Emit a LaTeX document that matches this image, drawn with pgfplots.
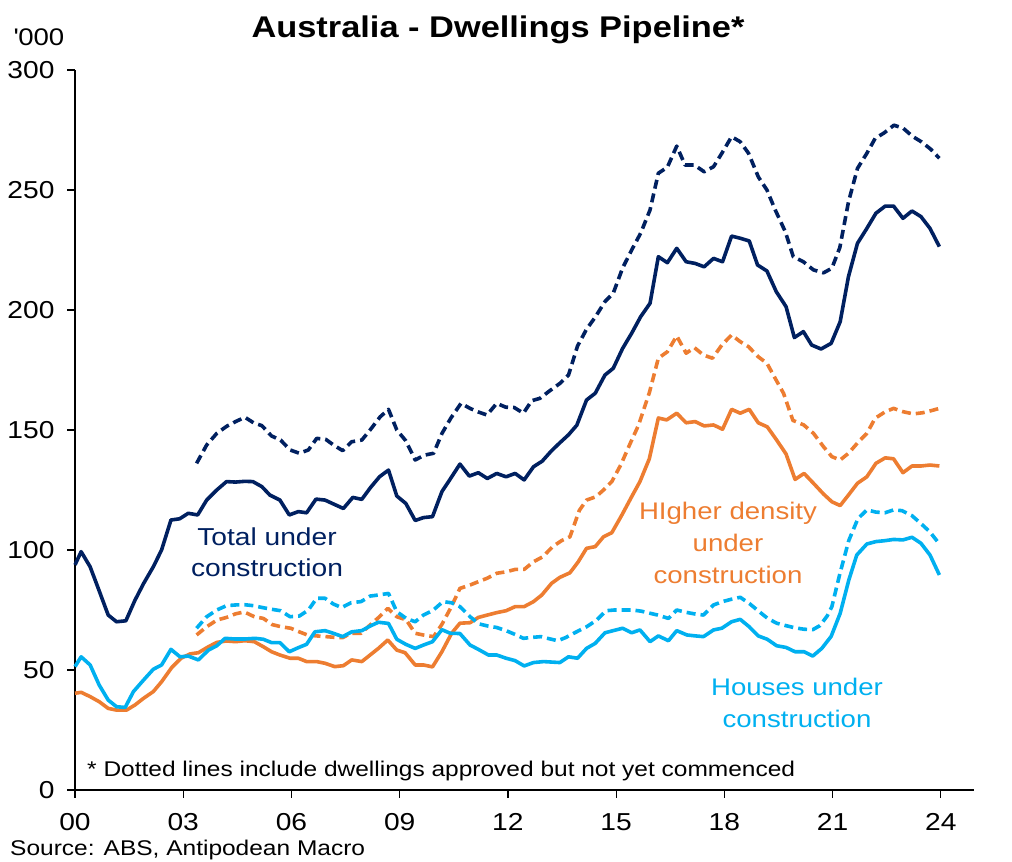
\documentclass[border=0pt]{standalone}
\usepackage{pgfplots}
\pgfplotsset{compat=1.18}
\usepackage{fontspec}
\setmainfont{Liberation Sans}[FakeStretch=1.15]
\definecolor{navy}{HTML}{002060}
\definecolor{orng}{HTML}{ED7D31}
\definecolor{lblue}{HTML}{00B0F0}
\begin{document}
\begin{tikzpicture}[x=1pt,y=1pt]
\path[use as bounding box] (0,0) rectangle (1012,862);
\begin{axis}[
  at={(75pt,72pt)}, anchor=south west,
  scale only axis, width=899pt, height=720pt,
  xmin=0, xmax=24.92, ymin=0, ymax=300,
  axis x line*=bottom, axis y line*=left,
  axis line style={black, line width=1.2pt},
  tick style={black, line width=1.2pt},
  tick align=outside, major tick length=8pt,
  xtick={0,3,6,9,12,15,18,21,24},
  xticklabels={00,03,06,09,12,15,18,21,24},
  ytick={0,50,100,150,200,250,300},
  /pgf/number format/assume math mode=true,
  ticklabel style={font=\fontsize{24.5}{24.5}\selectfont},
  yticklabel shift=9pt,
  xticklabel shift=12pt,
  clip=false,
  every axis plot/.append style={line width=3.6pt, line join=round},
]
% Total under construction (solid)
\addplot[navy] coordinates {
(0,93.8)(0.17,99.3)(0.42,93)(0.67,83)(0.92,72.9)(1.15,70.1)(1.41,70.5)(1.66,79)(1.9,86)(2.17,93)(2.4,100)(2.66,112.5)(2.9,113)(3.14,115.3)(3.4,114.6)(3.65,120.8)(3.93,125)(4.2,128.5)(4.45,128.3)(4.7,128.6)(4.93,128.5)(5.18,126.4)(5.4,122.9)(5.68,120.8)(5.94,114.6)(6.19,116)(6.42,115.5)(6.68,121.2)(6.93,120.8)(7.19,119)(7.44,117.3)(7.7,121.9)(7.95,121.1)(8.19,126)(8.44,130.5)(8.69,133.3)(8.92,122.5)(9.17,119.4)(9.43,112.3)(9.66,113.5)(9.91,113.9)(10.17,124.3)(10.42,130)(10.67,135.8)(10.93,130.8)(11.18,132.2)(11.43,129.8)(11.69,131.9)(11.95,130.5)(12.2,131.9)(12.45,129.2)(12.71,134.7)(12.95,137)(13.2,141.2)(13.42,144.4)(13.68,148)(13.91,152)(14.18,162.5)(14.42,165.3)(14.69,172.9)(14.92,175.7)(15.18,184)(15.43,190.3)(15.68,197.2)(15.94,202.8)(16.17,222.2)(16.42,219.7)(16.68,225.7)(16.94,220.1)(17.19,219.4)(17.44,218)(17.7,221.5)(17.95,220.1)(18.2,230.8)(18.44,229.9)(18.69,228.75)(18.92,218.75)(19.18,216.25)(19.44,207.6)(19.71,201.4)(19.94,188.5)(20.19,191)(20.42,185.4)(20.68,183.75)(20.96,186.1)(21.21,195.1)(21.44,213.9)(21.69,227.8)(21.95,234)(22.2,240.3)(22.46,243.3)(22.69,243.3)(22.95,238.2)(23.2,241.25)(23.45,238.9)(23.7,234)(23.96,226.4)
};
% Total incl. approved (dashed)
\addplot[navy, dash pattern=on 9pt off 5pt] coordinates {
(3.37,136.1)(3.65,143.75)(3.93,148.6)(4.2,151.5)(4.45,153.5)(4.71,155.3)(4.95,153)(5.18,151.8)(5.45,147.5)(5.7,145.8)(5.96,141.7)(6.22,140.3)(6.47,141.7)(6.7,146.5)(6.95,146.1)(7.19,143.5)(7.42,141.4)(7.67,145.1)(7.95,145.8)(8.18,150)(8.46,155.5)(8.69,158.6)(8.92,150)(9.17,145.5)(9.43,137.5)(9.68,139.5)(9.94,140.3)(10.17,148.5)(10.42,155)(10.7,161.1)(10.95,159)(11.18,157.5)(11.42,156.25)(11.69,161.1)(11.94,159.5)(12.17,159.4)(12.43,157)(12.66,162.2)(12.89,163.2)(13.12,165.9)(13.44,169.4)(13.68,172.9)(13.93,185)(14.18,192)(14.42,197)(14.69,203.5)(14.92,207)(15.18,217.5)(15.43,225)(15.68,232)(15.94,241.7)(16.17,257)(16.42,259.5)(16.68,268.3)(16.91,260.4)(17.17,260.4)(17.44,257.6)(17.7,259.7)(17.93,265.3)(18.2,272.2)(18.44,270.1)(18.67,265.3)(18.94,255.5)(19.18,250)(19.41,241.7)(19.69,232.6)(19.91,222.2)(20.19,220.1)(20.47,216.7)(20.75,215.5)(20.98,217.4)(21.2,226)(21.44,245)(21.69,259)(21.95,265.3)(22.18,271.5)(22.43,273.8)(22.7,277)(22.96,275.7)(23.22,272.3)(23.47,270)(23.72,267)(23.96,263.2)
};
% Higher density (solid)
\addplot[orng] coordinates {
(0,40.3)(0.17,40.7)(0.42,38.9)(0.67,36.8)(0.92,34)(1.15,33.3)(1.43,33.3)(1.66,35.4)(1.9,38.2)(2.17,41)(2.4,45.1)(2.68,51)(2.94,54.9)(3.19,56.7)(3.42,57.2)(3.7,59.7)(3.93,61.5)(4.2,62.1)(4.45,61.8)(4.71,62.2)(4.97,61.8)(5.22,59.7)(5.45,57.6)(5.68,56.25)(5.96,54.9)(6.19,54.9)(6.42,53.5)(6.7,53.5)(6.93,52.8)(7.2,51.4)(7.44,51.8)(7.67,54.2)(7.95,53.5)(8.18,56.25)(8.41,59)(8.67,62.5)(8.92,58.3)(9.15,57.2)(9.43,52.1)(9.66,52.1)(9.91,51.3)(10.17,57.6)(10.44,65.3)(10.67,69.5)(10.95,69.7)(11.18,71.9)(11.43,72.9)(11.69,73.9)(11.95,74.7)(12.2,76.4)(12.45,76.4)(12.71,78.5)(12.94,81.25)(13.21,86.1)(13.44,88.6)(13.72,90.5)(13.95,95.1)(14.18,100.7)(14.42,101.4)(14.65,105.5)(14.88,107.2)(15.16,114.6)(15.43,122.2)(15.66,128.5)(15.92,138)(16.17,155)(16.4,154.2)(16.68,157)(16.94,153)(17.19,153.5)(17.44,151.7)(17.7,152.1)(17.95,150.3)(18.2,158.6)(18.44,157)(18.69,158.6)(18.94,153)(19.19,151.3)(19.45,145.8)(19.71,140)(19.96,129.4)(20.21,131.9)(20.47,127.8)(20.75,123.3)(20.98,120.1)(21.21,118.5)(21.44,122.9)(21.69,127.8)(21.95,130.5)(22.2,136.1)(22.46,138.4)(22.69,138)(22.95,132.2)(23.2,135)(23.45,135)(23.7,135.4)(23.96,135)
};
% Higher density incl. approved (dashed)
\addplot[orng, dash pattern=on 9pt off 5pt] coordinates {
(3.37,64.6)(3.65,68)(3.93,70.8)(4.2,71.9)(4.45,73.4)(4.69,74.2)(4.97,72.2)(5.22,71.5)(5.47,68.9)(5.72,68)(5.98,67.4)(6.2,66)(6.44,64.6)(6.7,64.2)(6.96,63.9)(7.2,63.6)(7.42,63.5)(7.65,65.3)(7.93,65.3)(8.18,68.75)(8.44,72.2)(8.67,75.7)(8.92,72.2)(9.18,70.9)(9.43,65.3)(9.68,64.5)(9.94,63.9)(10.17,69)(10.42,76)(10.67,84)(10.95,85.4)(11.18,86.8)(11.42,88.2)(11.69,90.3)(11.95,90.9)(12.2,91.9)(12.45,91.9)(12.71,95.1)(12.97,97.2)(13.24,101.4)(13.5,104)(13.72,105.5)(13.98,116.5)(14.18,120.8)(14.44,122.2)(14.65,125)(14.88,128.5)(15.13,135.5)(15.39,144.4)(15.62,152)(15.92,165.5)(16.17,179.9)(16.42,182.6)(16.68,189.2)(16.94,182)(17.17,184.3)(17.42,181.25)(17.67,179.9)(17.93,185.4)(18.2,189.6)(18.44,186.8)(18.67,184.7)(18.94,180.5)(19.18,177.8)(19.41,171.5)(19.64,165.3)(19.9,154)(20.2,152.1)(20.47,148.6)(20.75,143)(20.98,138.9)(21.21,137.5)(21.44,140.3)(21.72,145.1)(21.95,148.6)(22.18,154.9)(22.46,157.6)(22.69,159)(22.96,157.6)(23.24,156.7)(23.5,157.2)(23.72,158)(23.96,159)
};
% Houses (solid)
\addplot[lblue] coordinates {
(0,51.4)(0.17,55.5)(0.42,52.1)(0.67,43.75)(0.92,37.5)(1.15,34.7)(1.39,34.4)(1.62,41)(1.9,45.8)(2.17,50.3)(2.4,52.1)(2.66,58.6)(2.91,55.5)(3.14,55.8)(3.42,54.2)(3.7,58.3)(3.93,60.1)(4.16,63.2)(4.44,62.9)(4.71,62.9)(4.99,63.2)(5.22,62.8)(5.45,61.4)(5.68,61.4)(5.94,57.6)(6.19,59.3)(6.42,60.7)(6.65,65.9)(6.93,66.4)(7.16,65.3)(7.42,63.9)(7.67,65.9)(7.95,66.4)(8.18,68.3)(8.41,69.9)(8.69,69.4)(8.92,62.8)(9.17,60.7)(9.43,59)(9.66,60.4)(9.91,61.8)(10.17,66.8)(10.4,65.3)(10.67,65.2)(10.95,60.4)(11.18,58.6)(11.46,56.25)(11.69,56.25)(11.95,54.9)(12.2,53.9)(12.45,51.7)(12.71,53.1)(12.99,53.5)(13.22,53.3)(13.44,53.1)(13.68,55.5)(13.93,54.9)(14.18,59)(14.42,61.1)(14.69,65.5)(14.92,66.4)(15.18,67.4)(15.43,65.5)(15.66,66.7)(15.94,61.8)(16.17,64.2)(16.45,62.2)(16.68,66.4)(16.96,64.6)(17.2,64.2)(17.42,63.9)(17.7,66.7)(17.93,67.4)(18.2,70.1)(18.44,71.1)(18.69,68)(18.94,64.2)(19.19,62.8)(19.45,60.1)(19.71,59.4)(19.96,57.6)(20.21,57.6)(20.45,55.8)(20.7,59)(20.96,64)(21.21,73.6)(21.45,87.5)(21.67,97.9)(21.95,102.5)(22.2,103.5)(22.46,103.9)(22.69,104.4)(22.95,104.2)(23.2,105.3)(23.45,102.8)(23.7,97.9)(23.96,89.6)
};
% Houses incl. approved (dashed)
\addplot[lblue, dash pattern=on 9pt off 5pt] coordinates {
(3.37,67.4)(3.65,72.2)(3.93,75)(4.2,76.8)(4.45,77.1)(4.7,77.2)(4.95,76.8)(5.2,76)(5.45,75.3)(5.7,74.7)(5.96,72.2)(6.22,72.5)(6.47,75)(6.7,79.9)(6.93,79.9)(7.16,77.5)(7.39,76)(7.65,78)(7.93,78.5)(8.18,80.8)(8.41,81.25)(8.69,81.9)(8.92,74.3)(9.18,71.5)(9.43,70.1)(9.66,72.9)(9.92,74.8)(10.2,78.5)(10.44,78)(10.67,76.4)(10.95,72.2)(11.2,69.2)(11.45,68.3)(11.69,67.7)(11.95,66.4)(12.2,64.8)(12.43,63.2)(12.68,63.6)(12.92,63.9)(13.15,63)(13.38,62.2)(13.6,63.5)(13.85,65.5)(14.18,68)(14.46,70.8)(14.72,74.7)(14.95,75)(15.2,75)(15.45,75)(15.7,74.5)(15.95,73.6)(16.15,72.9)(16.45,71.5)(16.68,75)(16.95,74)(17.2,73.3)(17.42,72.9)(17.7,77.1)(17.95,78.5)(18.2,79.5)(18.44,80.3)(18.71,77.5)(18.95,74.5)(19.2,71.5)(19.45,69.5)(19.7,68.5)(19.95,67.6)(20.2,67)(20.45,66.8)(20.65,68.5)(20.85,72.5)(20.98,76.4)(21.2,90)(21.45,104)(21.7,113)(21.95,116.7)(22.2,115.8)(22.45,115.5)(22.69,116.7)(22.92,116.4)(23.2,114.3)(23.45,111)(23.7,107.5)(23.96,102.5)
};
\end{axis}
% texts (absolute positions, origin bottom-left)
\node[font=\fontsize{29.9}{29.9}\selectfont\bfseries] at (498,832) {Australia - Dwellings Pipeline*};
\node[font=\fontsize{24}{24}\selectfont] at (39,825) {\textquotesingle000};
\node[font=\fontsize{21.3}{21.3}\selectfont, anchor=west, inner sep=0pt] at (87,91) {* Dotted lines include dwellings approved but not yet commenced};
\node[font=\fontsize{21.3}{21.3}\selectfont, anchor=west, inner sep=0pt] at (10,12) {Source: ABS, Antipodean Macro};
\node[font=\fontsize{24.5}{31}\selectfont, text=navy, align=center] at (267,310) {Total under\\construction};
\node[font=\fontsize{24}{32}\selectfont, text=orng, align=center] at (728,319) {HIgher density\\under\\construction};
\node[font=\fontsize{24}{32}\selectfont, text=lblue, align=center] at (797,159) {Houses under\\construction};
\end{tikzpicture}
\end{document}
